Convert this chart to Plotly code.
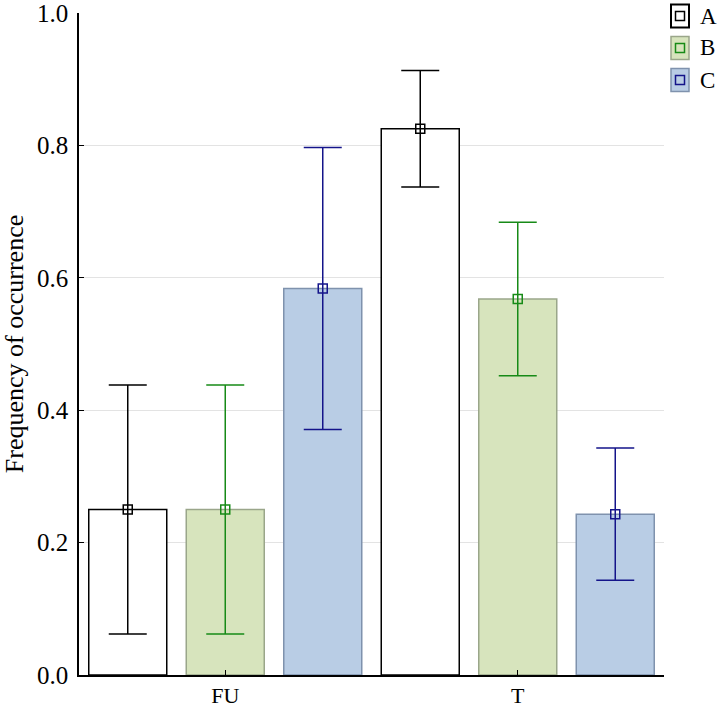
import plotly.graph_objects as go

categories = ["FU", "T"]
series_names = ["A", "B", "C"]
values_A = [0.25, 0.825]
values_B = [0.25, 0.568]
values_C = [0.584, 0.243]
err_A = [0.188, 0.088]
err_B = [0.188, 0.116]
err_C = [0.213, 0.100]
y_tickvals = [0.0, 0.2, 0.4, 0.6, 0.8, 1.0]
y_ticktext = ["0.0", "0.2", "0.4", "0.6", "0.8", "1.0"]
y_title = "Frequency of occurrence"

fills = ["#ffffff", "#d7e4bd", "#b9cde5"]
outlines = ["#000000", "#9aa68a", "#7f92ad"]
err_colors = ["#000000", "#178a17", "#14148a"]

values = [values_A, values_B, values_C]
errs = [err_A, err_B, err_C]

FONT = "Times New Roman, Liberation Serif, Times, serif"
W, H = 720, 709
ML, MR, MT, MB = 79, 56, 13, 34
PW, PH = W - ML - MR, H - MT - MB


def px_x(px):
    return (px - ML) / PW


def px_y(py):
    return (H - MB - py) / PH


fig = go.Figure()
for i, name in enumerate(series_names):
    fig.add_trace(go.Bar(
        x=categories, y=values[i], name=name,
        marker=dict(color=fills[i], line=dict(color=outlines[i], width=1.5)),
        error_y=dict(type="data", array=errs[i], color=err_colors[i],
                     thickness=1.5, width=19),
        offsetgroup=name, hoverinfo="skip", showlegend=False,
    ))
for i, name in enumerate(series_names):
    fig.add_trace(go.Scatter(
        x=categories, y=values[i], mode="markers",
        marker=dict(symbol="square-open", size=9,
                    line=dict(color=err_colors[i], width=1.5), color=err_colors[i]),
        offsetgroup=name, showlegend=False, hoverinfo="skip",
    ))

# legend drawn as shapes + text (outer filled box with small inner square)
shapes = []
annotations = []
for i, name in enumerate(series_names):
    cy = 16 + 32 * i
    shapes.append(dict(type="rect", xref="paper", yref="paper",
                       x0=px_x(671), x1=px_x(689), y0=px_y(cy + 11.5), y1=px_y(cy - 11.5),
                       fillcolor=fills[i], line=dict(color=outlines[i] if i else "#000000",
                                                     width=2 if i == 0 else 1.5)))
    shapes.append(dict(type="rect", xref="paper", yref="paper",
                       x0=px_x(675.5), x1=px_x(684.5), y0=px_y(cy + 4.5), y1=px_y(cy - 4.5),
                       fillcolor="rgba(0,0,0,0)", line=dict(color=err_colors[i], width=1.5)))
    annotations.append(dict(text=name, xref="paper", yref="paper",
                            x=px_x(698), y=px_y(cy), xanchor="left", yanchor="middle",
                            showarrow=False, font=dict(size=23, family=FONT, color="black")))

fig.update_layout(
    width=W, height=H,
    margin=dict(l=ML, r=MR, t=MT, b=MB, autoexpand=False),
    paper_bgcolor="white", plot_bgcolor="white",
    barmode="group", bargap=0, bargroupgap=0.2,
    scattermode="group", scattergap=0,
    font=dict(family=FONT, size=24, color="black"),
    showlegend=False,
    shapes=shapes, annotations=annotations,
    xaxis=dict(type="category", range=[-0.5, 1.5], showline=True,
               linecolor="black", linewidth=1.5, ticks="inside",
               ticklen=5, tickcolor="black", tickwidth=1.2, showgrid=False,
               tickfont=dict(size=22), automargin=False,
               ticklabeloverflow="allow"),
    yaxis=dict(range=[0, 1.0], tickvals=y_tickvals, ticktext=y_ticktext,
               showline=True, linecolor="black", linewidth=1.5,
               ticks="inside", ticklen=5, tickcolor="black", tickwidth=1.2,
               ticklabelstandoff=4, ticklabeloverflow="allow",
               showgrid=True, gridcolor="#e3e3e3", gridwidth=1,
               zeroline=False, tickfont=dict(size=25), automargin=False,
               title=dict(text=y_title, font=dict(size=26), standoff=6)),
)

fig.write_html("out.html", config={"displayModeBar": False},
               post_script="document.body.style.margin='0';document.body.style.padding='0';")
